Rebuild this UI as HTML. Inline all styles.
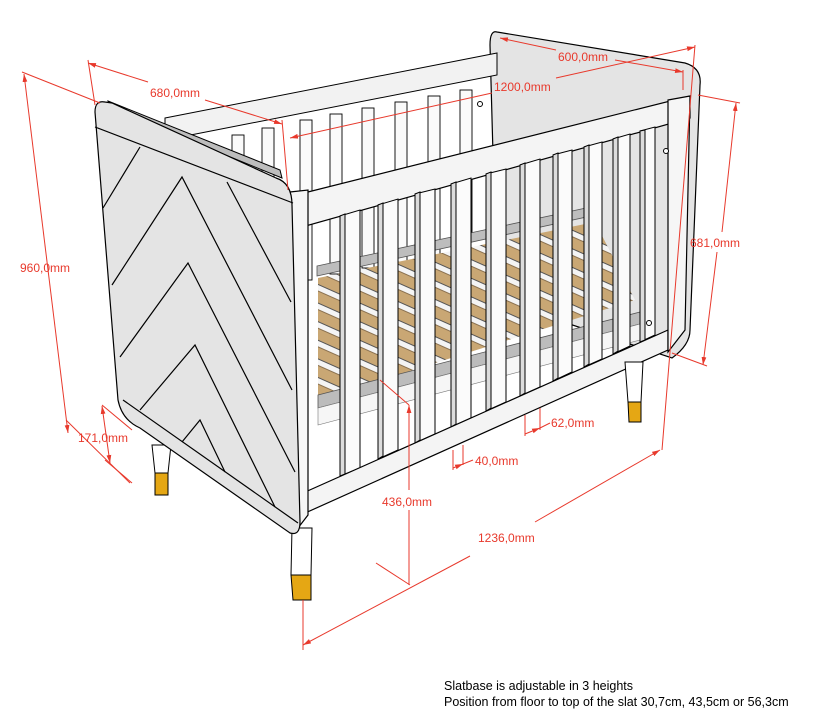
<!DOCTYPE html>
<html><head><meta charset="utf-8"><style>
html,body{margin:0;padding:0;background:#fff;width:821px;height:714px;overflow:hidden}
svg{display:block}
.d{stroke:#e8392c;stroke-width:1;fill:none}
.t{fill:#e8392c;font-family:"Liberation Sans",sans-serif;font-size:12px}
.k{stroke:#000;stroke-width:1.2;fill:none}
</style></head><body>
<svg width="821" height="714" viewBox="0 0 821 714" xmlns="http://www.w3.org/2000/svg">
<defs>
<marker id="a" viewBox="0 0 10 10" refX="10" refY="5" markerWidth="8" markerHeight="8" orient="auto-start-reverse"><path d="M0,2 L10,5 L0,8z" fill="#e8392c"/></marker>
<pattern id="slats" width="40" height="17" patternUnits="userSpaceOnUse" patternTransform="rotate(24)">
<rect width="40" height="17" fill="#f4f4f4"/><rect y="0" width="40" height="11" fill="#c9a774"/><rect y="11" width="40" height="1" fill="#555"/><rect y="0" width="40" height="1" fill="#8a7150"/>
</pattern>
<clipPath id="sb"><polygon points="318,278 595,222 635,300 318,400"/></clipPath>
</defs>

<!-- right end panel -->
<path d="M497,32 Q490,30 490,45 L497,300 L672,358 Q690,345 690,330 L700,85 Q702,68 685,63 Z" fill="#e4e4e4" stroke="#000" stroke-width="1.2"/>

<!-- back slats -->
<g fill="#fafafa" stroke="#000" stroke-width="0.9">
<rect x="232" y="135" width="12" height="160"/><rect x="262" y="128" width="12" height="160"/>
<rect x="300" y="120" width="12" height="160"/><rect x="330" y="114" width="12" height="160"/>
<rect x="362" y="108" width="12" height="160"/><rect x="395" y="102" width="12" height="160"/>
<rect x="428" y="96" width="12" height="160"/><rect x="460" y="90" width="12" height="150"/>
</g>
<!-- back rail -->
<polygon points="165,118 497,53 497,75 165,140" fill="#f2f2f2" stroke="#000" stroke-width="1"/>
<!-- back lower frame -->
<polygon points="317,266 600,205 600,214 317,276" fill="#bdbdbd" stroke="#555" stroke-width="0.8"/>
<!-- slatbase -->
<g clip-path="url(#sb)"><rect x="300" y="200" width="350" height="220" fill="url(#slats)"/></g>
<polygon points="318,395 640,312 640,324 318,408" fill="#bcbcbc" stroke="#555" stroke-width="0.8"/>
<polygon points="318,408 640,324 640,340 318,425" fill="#f6f6f6" stroke="#777" stroke-width="0.6"/>

<!-- front top rail -->
<polygon points="292,196 690,96 690,118 295,229" fill="#f4f4f4" stroke="#000" stroke-width="1.2"/>
<!-- front slats -->
<g stroke="#000" stroke-width="1">
<polygon points="340,216 360,210 360,468 340,476" fill="#fbfbfb"/><polygon points="340,216 345,214 345,474 340,476" fill="#dcdcdc"/>
<polygon points="378,205 398,199 398,450 378,459" fill="#fbfbfb"/><polygon points="378,205 383,203 383,456 378,459" fill="#dcdcdc"/>
<polygon points="415,194 435,189 435,434 415,443" fill="#fbfbfb"/><polygon points="415,194 420,192 420,440 415,443" fill="#dcdcdc"/>
<polygon points="451,184 471,178 471,418 451,427" fill="#fbfbfb"/><polygon points="451,184 456,182 456,424 451,427" fill="#dcdcdc"/>
<polygon points="486,174 506,169 506,402 486,411" fill="#fbfbfb"/><polygon points="486,174 491,172 491,408 486,411" fill="#dcdcdc"/>
<polygon points="520,165 540,159 540,387 520,396" fill="#fbfbfb"/><polygon points="520,165 525,163 525,393 520,396" fill="#dcdcdc"/>
<polygon points="553,155 572,150 572,372 553,381" fill="#fbfbfb"/><polygon points="553,155 558,153 558,378 553,381" fill="#dcdcdc"/>
<polygon points="584,147 602,142 602,359 584,367" fill="#fbfbfb"/><polygon points="584,147 589,145 589,364 584,367" fill="#dcdcdc"/>
<polygon points="613,139 630,134 630,346 613,354" fill="#fbfbfb"/><polygon points="613,139 618,137 618,351 613,354" fill="#dcdcdc"/>
<polygon points="640,131 655,127 655,335 640,342" fill="#fbfbfb"/><polygon points="640,131 645,130 645,340 640,342" fill="#dcdcdc"/>
</g>
<!-- bottom rail -->
<polygon points="303,493 668,330 668,350 303,514" fill="#f4f4f4" stroke="#000" stroke-width="1.2"/>
<!-- posts -->
<polygon points="290,192 308,190 308,515 298,528 292,520" fill="#f6f6f6" stroke="#000" stroke-width="1.2"/>
<polygon points="668,100 690,96 685,330 668,352" fill="#f6f6f6" stroke="#000" stroke-width="1.2"/>
<circle cx="666" cy="151" r="2.5" fill="#fff" stroke="#000"/><circle cx="480" cy="104" r="2.5" fill="#fff" stroke="#000"/><circle cx="649" cy="323" r="2.5" fill="#fff" stroke="#000"/>

<!-- legs -->
<polygon points="152,445 171,445 168,473 155,473" fill="#fff" stroke="#000"/>
<polygon points="155,473 168,473 168,495 155,495" fill="#e5a714" stroke="#000"/>
<polygon points="292,528 312,528 311,575 291,575" fill="#fff" stroke="#000"/>
<polygon points="291,575 311,575 311,600 293,600" fill="#e5a714" stroke="#000"/>
<polygon points="625,362 643,362 641,402 628,402" fill="#fff" stroke="#000"/>
<polygon points="628,402 641,402 641,422 629,422" fill="#e5a714" stroke="#000"/>

<!-- left panel -->
<polygon points="108,101 280,170 282,178 110,108" fill="#bdbdbd" stroke="#000" stroke-width="1"/>
<path d="M105,102 Q95,100 95,112 L118,400 Q122,420 140,428 L290,533 Q300,536 300,522 L292,205 Q292,183 276,178 L112,103 Z" fill="#e4e4e4" stroke="#000" stroke-width="1.2"/>
<g class="k">
<line x1="95" y1="127" x2="293" y2="203"/>
<line x1="140" y1="147" x2="103" y2="208"/>
<polyline points="112,285 182,177 292,390"/>
<line x1="227" y1="182" x2="291" y2="302"/>
<polyline points="120,357 188,263 295,472"/>
<polyline points="140,410 195,345 275,507"/>
<line x1="123" y1="400" x2="298" y2="523"/>
<polyline points="182,442 200,420 225,472"/>
</g>

<!-- dimensions -->
<g class="d">
<line x1="22" y1="72" x2="100" y2="103"/>
<line x1="24" y1="74" x2="68" y2="433" marker-start="url(#a)" marker-end="url(#a)"/>
<line x1="66" y1="420" x2="130" y2="483"/>
<line x1="88" y1="60" x2="95" y2="105"/>
<line x1="88" y1="63" x2="148" y2="82" marker-start="url(#a)"/>
<line x1="205" y1="100" x2="282" y2="124" marker-end="url(#a)"/>
<line x1="282" y1="120" x2="288" y2="190"/>
<line x1="290" y1="138" x2="492" y2="93" marker-start="url(#a)"/>
<line x1="556" y1="78" x2="695" y2="47" marker-end="url(#a)"/>
<line x1="695" y1="45" x2="662" y2="450"/>
<line x1="500" y1="38" x2="556" y2="50" marker-start="url(#a)"/>
<line x1="615" y1="60" x2="683" y2="72" marker-end="url(#a)"/>
<line x1="683" y1="70" x2="683" y2="90"/>
<line x1="698" y1="95" x2="740" y2="103"/>
<line x1="736" y1="103" x2="722" y2="232" marker-start="url(#a)"/>
<line x1="717" y1="252" x2="703" y2="365" marker-end="url(#a)"/>
<line x1="672" y1="353" x2="707" y2="366"/>
<line x1="102" y1="405" x2="132" y2="430"/>
<line x1="102" y1="406" x2="110" y2="463" marker-start="url(#a)" marker-end="url(#a)"/>
<line x1="105" y1="460" x2="132" y2="483"/>
<line x1="380" y1="380" x2="409" y2="405"/>
<line x1="409" y1="405" x2="409" y2="490" marker-start="url(#a)"/>
<line x1="409" y1="510" x2="409" y2="585"/>
<line x1="376" y1="563" x2="410" y2="585"/>
<line x1="303" y1="600" x2="303" y2="650"/>
<line x1="303" y1="645" x2="470" y2="556" marker-start="url(#a)"/>
<line x1="535" y1="522" x2="660" y2="450" marker-end="url(#a)"/>
<line x1="453" y1="450" x2="453" y2="470"/><line x1="463" y1="445" x2="463" y2="465"/>
<line x1="453" y1="468" x2="463" y2="464" marker-end="url(#a)"/><line x1="463" y1="464" x2="473" y2="460"/>
<line x1="525" y1="415" x2="525" y2="436"/><line x1="540" y1="408" x2="540" y2="430"/>
<line x1="525" y1="434" x2="540" y2="428" marker-end="url(#a)"/><line x1="540" y1="428" x2="550" y2="423"/>
</g>
<g class="t">
<text x="20" y="272">960,0mm</text>
<text x="150" y="97">680,0mm</text>
<text x="494" y="91">1200,0mm</text>
<text x="558" y="61">600,0mm</text>
<text x="690" y="247">681,0mm</text>
<text x="78" y="442">171,0mm</text>
<text x="382" y="506">436,0mm</text>
<text x="478" y="542">1236,0mm</text>
<text x="475" y="465">40,0mm</text>
<text x="551" y="427">62,0mm</text>
</g>
<g font-family="Liberation Sans, sans-serif" font-size="12.5" fill="#000">
<text x="444" y="690">Slatbase is adjustable in 3 heights</text>
<text x="444" y="706">Position from floor to top of the slat 30,7cm, 43,5cm or 56,3cm</text>
</g>
</svg>
</body></html>
